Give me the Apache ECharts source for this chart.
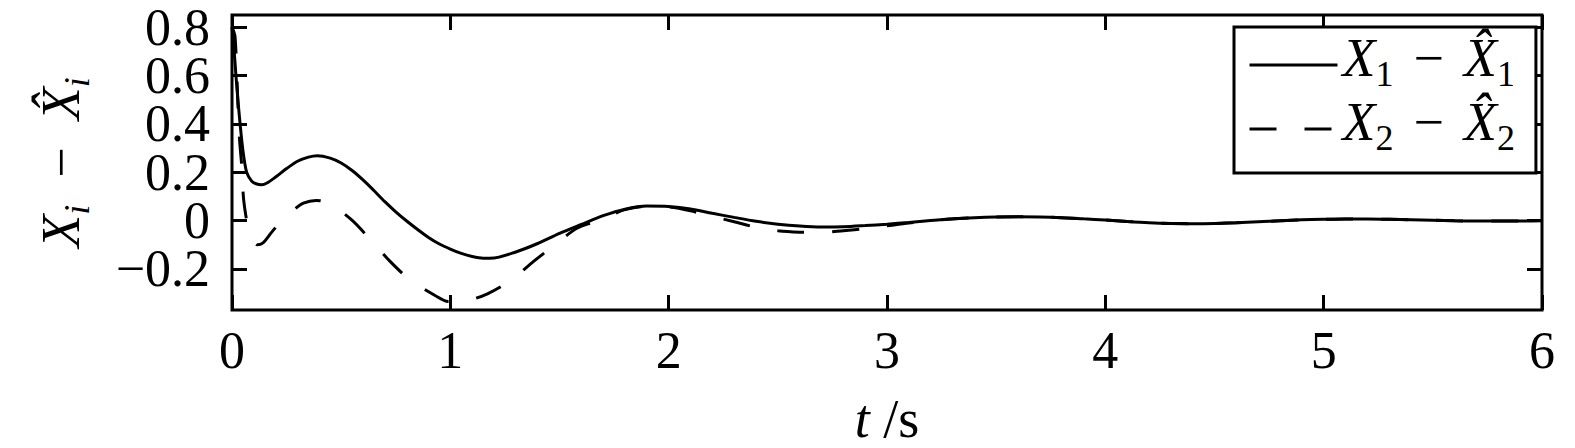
<!DOCTYPE html>
<html>
<head>
<meta charset="utf-8">
<script src="https://cdn.jsdelivr.net/npm/echarts@6/dist/echarts.min.js"></script>
<style>
  html, body { margin: 0; padding: 0; background: #fff; }
  #chart { width: 1575px; height: 448px; }
</style>
</head>
<body>
<div id="chart"></div>
<script>
// ---- data ----
const t1 = [0, 0.01, 0.018, 0.027, 0.037, 0.05, 0.067, 0.09, 0.11, 0.136, 0.16, 0.2, 0.25, 0.3, 0.35, 0.39, 0.45, 0.5, 0.55, 0.6, 0.65, 0.7, 0.75, 0.8, 0.85, 0.9, 0.95, 1.0, 1.05, 1.1, 1.15, 1.2, 1.3, 1.4, 1.5, 1.6, 1.7, 1.8, 1.9, 2.0, 2.1, 2.2, 2.3, 2.4, 2.5, 2.6, 2.7, 2.8, 2.9, 3.0, 3.1, 3.2, 3.3, 3.4, 3.5, 3.6, 3.7, 3.8, 3.9, 4.0, 4.1, 4.2, 4.3, 4.4, 4.5, 4.6, 4.7, 4.8, 4.9, 5.0, 5.1, 5.2, 5.3, 5.4, 5.5, 5.6, 5.7, 5.8, 5.9, 6.0];
const v1 = [0.80, 0.70, 0.60, 0.50, 0.40, 0.29, 0.20, 0.163, 0.152, 0.148, 0.155, 0.18, 0.215, 0.245, 0.262, 0.268, 0.258, 0.238, 0.207, 0.168, 0.124, 0.078, 0.036, -0.002, -0.037, -0.07, -0.097, -0.118, -0.136, -0.149, -0.156, -0.155, -0.13, -0.095, -0.053, -0.016, 0.02, 0.047, 0.06, 0.058, 0.048, 0.03, 0.013, -0.003, -0.015, -0.023, -0.027, -0.026, -0.021, -0.015, -0.008, 0.0, 0.007, 0.012, 0.015, 0.016, 0.015, 0.012, 0.007, 0.002, -0.004, -0.009, -0.012, -0.013, -0.012, -0.009, -0.005, -0.001, 0.003, 0.005, 0.006, 0.006, 0.005, 0.003, 0.001, -0.001, -0.002, -0.002, -0.002, -0.001];

const t2 = [0, 0.014, 0.027, 0.035, 0.045, 0.052, 0.06, 0.068, 0.09, 0.115, 0.142, 0.18, 0.228, 0.28, 0.327, 0.385, 0.441, 0.548, 0.632, 0.724, 0.815, 0.93, 0.99, 1.08, 1.17, 1.28, 1.38, 1.48, 1.58, 1.68, 1.8, 1.9, 2.0, 2.1, 2.2, 2.3, 2.4, 2.5, 2.6, 2.7, 2.8, 2.9, 3.0, 3.1, 3.2, 3.3, 3.4, 3.5, 3.6, 3.7, 3.8, 3.9, 4.0, 4.1, 4.2, 4.3, 4.4, 4.5, 4.6, 4.7, 4.8, 4.9, 5.0, 5.1, 5.2, 5.3, 5.4, 5.5, 5.6, 5.7, 5.8, 5.9, 6.0];
const v2 = [0.80, 0.76, 0.48, 0.33, 0.22, 0.10, 0.04, 0.0, -0.06, -0.1, -0.092, -0.05, 0.0, 0.042, 0.072, 0.083, 0.072, 0.003, -0.077, -0.169, -0.245, -0.31, -0.335, -0.33, -0.303, -0.245, -0.17, -0.1, -0.032, 0.0, 0.045, 0.059, 0.056, 0.04, 0.017, -0.005, -0.028, -0.042, -0.048, -0.049, -0.042, -0.034, -0.022, -0.01, 0.0, 0.006, 0.012, 0.015, 0.016, 0.015, 0.012, 0.007, 0.002, -0.004, -0.009, -0.012, -0.013, -0.012, -0.009, -0.005, -0.001, 0.003, 0.005, 0.006, 0.006, 0.005, 0.003, 0.001, -0.001, -0.002, -0.002, -0.002, -0.001];

const xTicks = [0, 1, 2, 3, 4, 5, 6];
const yTicks = [-0.2, 0, 0.2, 0.4, 0.6, 0.8];
const seriesNames = ['X1', 'X2'];
const legendLabels = ['{x|X}{s|1}{m|−}{x|X̂}{s|1}', '{x|X}{s|2}{m|−}{x|X̂}{s|2}'];
const yName = '{x|X}{s|i}{m|−}{x|X̂}{s|i}';
const xName = '{i|t}{r| /s}';

// ---- chart ----
const FONT = 'Liberation Serif';
const FS = 54;
const mkRich = (mPad, subItalic) => ({
  x: { fontFamily: FONT, fontStyle: 'italic', fontSize: FS, lineHeight: FS, padding: [0, 0, 7, 0], verticalAlign: 'bottom', color: '#000' },
  s: { fontFamily: FONT, fontStyle: subItalic ? 'italic' : 'normal', fontSize: 36, lineHeight: 36, verticalAlign: 'bottom', color: '#000' },
  m: { fontFamily: FONT, fontSize: FS, lineHeight: FS, padding: [0, mPad, 7, mPad], verticalAlign: 'bottom', color: '#000' }
});

const pairs = (ts, vs) => ts.map((t, i) => [t, vs[i]]);
const fmtY = v => {
  const r = Math.round(v * 10) / 10;
  if (r === 0) return '0';
  return r < 0 ? '−' + Math.abs(r) : String(r);
};
// split the y ticks into two interleaved sets so no label set is crowded
const yTicksA = yTicks.filter((_, i) => i % 2 === 0);
const yTicksB = yTicks.filter((_, i) => i % 2 === 1);

const LW = 3;
const YMIN = -0.37, YMAX = 0.85;
const tickStyle = { inside: true, length: 15, lineStyle: { color: '#000', width: LW } };
const noLine = { show: false, onZero: false };
const yLabelStyle = vals => ({ margin: 22, fontFamily: FONT, fontSize: 52, lineHeight: 40, color: '#000', customValues: vals, formatter: fmtY, hideOverlap: false, showMinLabel: true, showMaxLabel: true });
const mkY = (pos, vals, withLabels) => ({
  type: 'value', min: YMIN, max: YMAX, position: pos, offset: 0,
  axisLine: noLine, splitLine: { show: false },
  axisTick: Object.assign({ customValues: vals }, tickStyle),
  axisLabel: withLabels ? yLabelStyle(vals) : { show: false }
});

const yAxes = [
  Object.assign(mkY('left', yTicksA, true), {
    name: yName, nameLocation: 'middle', nameGap: 137, nameRotate: 90,
    nameTextStyle: { fontFamily: FONT, fontSize: FS, color: '#000', rich: mkRich(27, true) }
  }),
  mkY('left', yTicksB, true),
  mkY('right', yTicksA, false),
  mkY('right', yTicksB, false)
];

const chart = echarts.init(document.getElementById('chart'), null, { renderer: 'svg' });
chart.setOption({
  animation: false,
  backgroundColor: '#fff',
  grid: { left: 232, right: 33, top: 15, bottom: 138, show: true, borderColor: '#000', borderWidth: LW, backgroundColor: 'transparent', outerBoundsMode: 'none', containLabel: false },
  legend: {
    data: seriesNames,
    orient: 'vertical',
    left: 1234, top: 27,
    padding: [4, 21, 17, 14],
    itemWidth: 88, itemHeight: 20, itemGap: 3,
    borderColor: '#000', borderWidth: LW, borderRadius: 0,
    backgroundColor: '#fff',
    selectedMode: false,
    itemStyle: { opacity: 0 },
    lineStyle: { width: LW },
    formatter: name => legendLabels[seriesNames.indexOf(name)],
    textStyle: { fontFamily: FONT, fontSize: FS, color: '#000', rich: mkRich(20, false) }
  },
  xAxis: [
    {
      type: 'value', min: 0, max: 6, interval: 1, position: 'bottom',
      axisLine: noLine, axisTick: tickStyle, splitLine: { show: false },
      axisLabel: { margin: 14, fontFamily: FONT, fontSize: 52, lineHeight: 52, color: '#000', customValues: xTicks, hideOverlap: false, showMinLabel: true, showMaxLabel: true },
      name: xName, nameLocation: 'middle', nameGap: 87,
      nameTextStyle: { fontFamily: FONT, fontSize: FS, color: '#000', rich: {
        i: { fontFamily: FONT, fontStyle: 'italic', fontSize: FS, lineHeight: 44, color: '#000' },
        r: { fontFamily: FONT, fontSize: FS, lineHeight: 44, color: '#000' } } }
    },
    {
      type: 'value', min: 0, max: 6, interval: 1, position: 'top',
      axisLine: noLine, axisTick: tickStyle, splitLine: { show: false }, axisLabel: { show: false }
    }
  ],
  yAxis: yAxes,
  series: [
    {
      name: seriesNames[0], type: 'line', xAxisIndex: 0, yAxisIndex: 0,
      data: pairs(t1, v1), smooth: 0.3, symbol: 'none',
      lineStyle: { color: '#000', width: LW, type: 'solid' }, itemStyle: { color: '#000' }
    },
    {
      name: seriesNames[1], type: 'line', xAxisIndex: 0, yAxisIndex: 0,
      data: pairs(t2, v2), smooth: 0.3, symbol: 'none',
      lineStyle: { color: '#000', width: LW, type: [27, 28] }, itemStyle: { color: '#000' }
    }
  ]
});
</script>
</body>
</html>
